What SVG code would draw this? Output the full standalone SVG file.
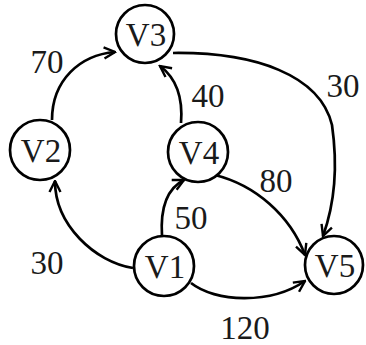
<svg xmlns="http://www.w3.org/2000/svg" width="366" height="345" viewBox="0 0 366 345">
<style>
.node circle{fill:#fff;stroke:#000;stroke-width:2.7}
.node text,.lbl{font-family:"Liberation Serif","Times New Roman",serif;font-size:33px;fill:#1a1a1a;text-anchor:middle}
.edge{fill:none;stroke:#000;stroke-width:2.7;marker-end:url(#arr)}
</style>
<defs>
<marker id="arr" markerUnits="userSpaceOnUse" viewBox="0 0 14 14" markerWidth="14" markerHeight="14" refX="12.5" refY="7" orient="auto">
<path d="M1.5,1.5 L12.5,7 L1.5,12.5" fill="none" stroke="#000" stroke-width="2.4" stroke-linejoin="miter"/>
</marker>
</defs>
<rect width="366" height="345" fill="#fff"/>
<g id="edges">
<path class="edge" d="M133,268 C95,262 55,225 55,181"/>
<path class="edge" d="M52,120 C52,80 80,55 115,52"/>
<path class="edge" d="M181,123 C183,98 176,78 160,66"/>
<path class="edge" d="M173,53 C255,52 320,75 332,125 C337,160 336,200 323,236"/>
<path class="edge" d="M215,175 C255,185 290,215 305,255"/>
<path class="edge" d="M162,236 C160,205 168,188 184,180"/>
<path class="edge" d="M191,283 C215,302 270,305 305,281"/>
</g>
<g id="labels">
<text class="lbl" x="47" y="73">70</text>
<text class="lbl" x="343" y="97">30</text>
<text class="lbl" x="208" y="107">40</text>
<text class="lbl" x="276" y="192">80</text>
<text class="lbl" x="191" y="229">50</text>
<text class="lbl" x="47" y="274">30</text>
<text class="lbl" x="245" y="339">120</text>
</g>
<g id="V3" class="node"><circle cx="145" cy="34" r="29"/><text x="146" y="46">V3</text></g>
<g id="V2" class="node"><circle cx="40" cy="150" r="30"/><text x="41" y="162">V2</text></g>
<g id="V4" class="node"><circle cx="198" cy="152" r="30"/><text x="199" y="164">V4</text></g>
<g id="V1" class="node"><circle cx="164" cy="266" r="30"/><text x="165" y="278">V1</text></g>
<g id="V5" class="node"><circle cx="334" cy="265" r="29"/><text x="335" y="277">V5</text></g>
</svg>
